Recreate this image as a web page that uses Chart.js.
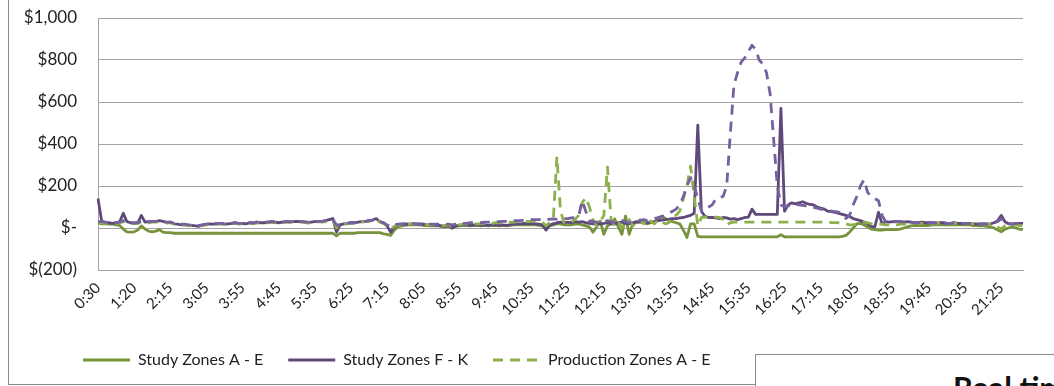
<!DOCTYPE html>
<html>
<head>
<meta charset="utf-8">
<script src="https://cdn.jsdelivr.net/npm/chart.js@4.4.1/dist/chart.umd.min.js"></script>
<style>
  html, body { margin: 0; padding: 0; background: #fff; width: 1054px; height: 386px; overflow: hidden; }
  #frame { position: absolute; left: 8px; top: -2px; width: 1100px; height: 387px; box-sizing: border-box;
           border-left: 1px solid #8a8a8a; border-bottom: 1px solid #8a8a8a; }
  #wrap { position: absolute; left: 0; top: 0; width: 1054px; height: 386px; }
  #inset { position: absolute; left: 755px; top: 354px; width: 420px; height: 90px; box-sizing: border-box;
           border: 1px solid #8a8a8a; background: #fff; }
  #inset span { position: absolute; left: 197px; top: 17px; font: bold 31px/31px Lato, sans-serif; color: #111; white-space: nowrap; }
</style>
</head>
<body>
<div id="frame"></div>
<div id="wrap"><canvas id="chart" width="1054" height="386"></canvas></div>
<div id="inset"><span>Real time Prices</span></div>
<script>
// Five-minute intervals from 0:30 to 21:55 (the 1:50 interval is absent from the feed)
const START_MIN = 30;
const STEP_MIN = 5;
const POINTS = 257;
const MISSING_MIN = [110];

const times = [];
for (let m = START_MIN; times.length < POINTS; m += STEP_MIN) {
  if (MISSING_MIN.includes(m)) continue;
  times.push(Math.floor(m / 60) + ':' + String(m % 60).padStart(2, '0'));
}

// Prices in $/MWh, one value per interval
const studyAE = [
  25, 20, 20, 18, 20, 15, 12, -5, -18, -20,
  -18, -10, 10, -5, -15, -18, -15, -8, -20, -22,
  -22, -25, -25, -25, -25, -25, -25, -25, -25, -25,
  -25, -25, -25, -25, -25, -25, -25, -25, -25, -25,
  -25, -25, -25, -25, -25, -25, -25, -25, -25, -25,
  -25, -25, -25, -25, -25, -25, -25, -25, -25, -25,
  -25, -25, -25, -25, -25, -25, -38, -25, -25, -25,
  -25, -25, -22, -22, -22, -22, -22, -22, -22, -28,
  -30, -35, -10, 5, 10, 12, 15, 15, 15, 15,
  12, 12, 10, 10, 10, 8, 5, 8, 0, 8,
  10, 12, 12, 10, 12, 12, 10, 12, 10, 12,
  12, 10, 12, 10, 12, 15, 15, 15, 15, 15,
  15, 15, 12, 10, -5, 10, 15, 20, 20, 15,
  15, 15, 18, 20, 15, 10, 5, -20, 5, 33,
  -30, 10, 20, 43, 5, -30, 57, -30, 20, 25,
  30, 25, 20, 25, 30, 40, 55, 45, 35, 30,
  25, 20, -10, -45, 20, 20, -40, -42, -42, -42,
  -42, -42, -42, -42, -42, -42, -42, -42, -42, -42,
  -42, -42, -42, -42, -42, -42, -42, -42, -42, -32,
  -42, -42, -42, -42, -42, -42, -42, -42, -42, -42,
  -42, -42, -42, -42, -42, -42, -40, -35, -20, 0,
  20, 22, 15, 5, -5, -8, -10, -10, -8, -8,
  -8, -8, -5, 0, 5, 10, 12, 12, 12, 12,
  12, 15, 15, 15, 15, 15, 15, 15, 15, 15,
  15, 15, 12, 12, 10, 10, 8, 5, 0, -10,
  -18, -5, 0, 5, 0, -5, -8
];

const studyFK = [
  140, 35, 25, 25, 22, 25, 30, 70, 30, 25,
  22, 25, 60, 28, 30, 32, 30, 35, 32, 25,
  28, 20, 18, 15, 15, 12, 12, 10, 8, 15,
  18, 20, 18, 20, 22, 18, 20, 22, 25, 20,
  22, 20, 25, 22, 28, 25, 25, 28, 30, 28,
  25, 28, 30, 28, 30, 32, 30, 28, 25, 28,
  30, 32, 30, 35, 40, 45, -20, 15, 20, 22,
  25, 25, 28, 30, 32, 35, 38, 45, 30, 25,
  10, -20, 5, 15, 18, 20, 18, 20, 18, 18,
  18, 15, 15, 12, 15, 10, 8, 12, 0, 10,
  12, 15, 15, 12, 15, 15, 12, 15, 12, 15,
  15, 12, 15, 12, 15, 18, 20, 20, 22, 20,
  22, 20, 18, 15, -10, 15, 20, 25, 28, 25,
  28, 25, 30, 28, 30, 25, 22, 20, 18, 20,
  22, 25, 20, 18, 25, 28, 22, 20, 25, 30,
  28, 30, 25, 28, 30, 35, 38, 40, 42, 45,
  45, 48, 50, 55, 60, 70, 490, 80, 55, 50,
  50, 48, 45, 50, 48, 42, 45, 40, 45, 50,
  52, 90, 65, 65, 65, 65, 65, 65, 65, 570,
  80, 110, 120, 115, 120, 125, 118, 112, 110, 100,
  95, 90, 80, 78, 75, 70, 65, 60, 55, 45,
  40, 35, 28, 20, 8, 5, 75, 20, 30, 28,
  30, 32, 30, 28, 30, 28, 25, 25, 28, 25,
  25, 25, 22, 25, 25, 22, 22, 25, 22, 22,
  20, 22, 20, 20, 18, 20, 18, 20, 25, 35,
  60, 30, 20, 18, 20, 22, 22
];

const productionAE = [
  25, 25, 22, 20, 20, 22, 25, 30, 25, 22,
  22, 22, 30, 25, 25, 28, 28, 30, 28, 25,
  25, 20, 18, 15, 15, 12, 12, 10, 10, 12,
  15, 18, 18, 18, 20, 18, 18, 20, 22, 20,
  20, 20, 22, 22, 25, 22, 25, 25, 28, 25,
  25, 25, 28, 28, 28, 30, 28, 28, 25, 25,
  28, 30, 28, 30, 35, 38, 0, 12, 18, 20,
  22, 22, 25, 28, 30, 32, 35, 38, 28, 22,
  10, -5, 8, 15, 15, 18, 18, 18, 18, 18,
  18, 15, 15, 15, 15, 12, 12, 15, 5, 12,
  15, 18, 18, 18, 20, 20, 20, 22, 22, 22,
  25, 25, 25, 25, 28, 28, 30, 30, 30, 32,
  32, 32, 30, 28, 10, 25, 35, 340, 80, 25,
  20, 30, 40, 60, 120, 145, 100, 40, 10, 30,
  60, 290, 40, 10, 30, 0, 20, 40, 10, 30,
  40, 20, 50, 30, 20, 40, 30, 20, 25, 60,
  60, 80, 140, 200, 295, 150, 10, 50, 52, 52,
  52, 52, 50, 40, 15, 25, 28, 28, 28, 28,
  28, 28, 28, 28, 28, 28, 28, 28, 28, 28,
  28, 28, 28, 28, 28, 28, 28, 28, 28, 28,
  28, 28, 28, 26, 26, 25, 22, 20, 15, 15,
  20, 25, 28, 25, 20, 15, 20, 18, 15, 15,
  15, 15, 18, 18, 20, 20, 22, 22, 22, 22,
  22, 22, 22, 22, 22, 22, 22, 22, 22, 22,
  22, 22, 20, 20, 20, 20, 18, 18, 15, 5,
  -5, 10, 15, 15, 15, 12, 10
];

const productionFK = [
  30, 30, 28, 25, 25, 25, 28, 35, 28, 25,
  25, 25, 35, 28, 30, 32, 32, 35, 32, 28,
  28, 22, 20, 18, 18, 15, 15, 12, 12, 15,
  18, 20, 20, 22, 22, 20, 22, 22, 25, 22,
  22, 22, 25, 25, 28, 25, 28, 28, 30, 28,
  28, 28, 30, 30, 30, 32, 30, 30, 28, 28,
  30, 32, 32, 35, 38, 40, 15, 15, 20, 22,
  25, 25, 28, 30, 32, 35, 38, 40, 30, 25,
  15, 5, 15, 18, 20, 20, 20, 22, 20, 20,
  20, 18, 18, 18, 18, 18, 18, 18, 15, 18,
  20, 22, 22, 25, 25, 25, 25, 28, 28, 28,
  30, 30, 32, 32, 32, 35, 35, 35, 38, 40,
  40, 40, 40, 42, 38, 42, 42, 42, 45, 45,
  45, 48, 50, 55, 130, 80, 35, 30, 28, 30,
  30, 35, 30, 25, 30, 35, 30, 25, 30, 35,
  35, 40, 35, 40, 45, 50, 55, 60, 70, 80,
  90, 110, 150, 200, 240, 200, 140, 80, 90, 100,
  110, 140, 145, 150, 200, 450, 680, 740, 790, 810,
  840, 870, 850, 800, 780, 740, 640, 420, 200, 110,
  100, 105, 110, 112, 110, 108, 105, 100, 98, 95,
  90, 88, 85, 80, 78, 75, 60, 45, 60, 110,
  150, 200, 230, 170, 150, 140, 130, 60, 30, 28,
  28, 30, 30, 28, 28, 28, 25, 25, 28, 25,
  25, 25, 25, 25, 25, 22, 22, 25, 22, 22,
  22, 22, 22, 20, 20, 20, 20, 22, 25, 30,
  45, 25, 22, 20, 22, 22, 22
];

const Y_MIN = -200, Y_MAX = 1000, Y_STEP = 200;
const LABEL_EVERY = 10;
const LEGEND_SERIES = ['Study Zones A - E', 'Study Zones F - K', 'Production Zones A - E'];
const LEGEND_LEFT = 58;

const GREEN = '#77933c';
const GREEN_LIGHT = '#8db04c';
const PURPLE = '#5f497a';
const PURPLE_LIGHT = '#7560a0';
const TEXT = '#222222';
const GRID = '#a3a3a3';
const FONT = 'Lato, "Open Sans", sans-serif';
const LINE_WIDTH = 2.8;
const DASH = [10, 7];

function money(v) {
  if (v === 0) return '$-';
  if (v < 0) return '$(' + Math.abs(v).toLocaleString('en-US') + ')';
  return '$' + v.toLocaleString('en-US');
}

function series(label, data, color, dashed, order) {
  return {
    label, data, order,
    borderColor: color,
    backgroundColor: color,
    borderWidth: LINE_WIDTH,
    borderDash: dashed ? DASH : [],
    borderJoinStyle: 'round',
    pointRadius: 0,
    pointHoverRadius: 0,
    tension: 0,
    fill: false
  };
}

// Start the legend row at a fixed indent instead of the canvas edge
const legendIndent = {
  id: 'legendIndent',
  afterLayout(chart) {
    if (chart.legend) chart.legend.left = LEGEND_LEFT;
  }
};

new Chart(document.getElementById('chart'), {
  type: 'line',
  data: {
    labels: times,
    datasets: [
      series('Study Zones A - E', studyAE, GREEN, false, 4),
      series('Study Zones F - K', studyFK, PURPLE, false, 3),
      series('Production Zones A - E', productionAE, GREEN_LIGHT, true, 2),
      series('Production Zones F - K', productionFK, PURPLE_LIGHT, true, 1)
    ]
  },
  plugins: [legendIndent],
  options: {
    responsive: false,
    devicePixelRatio: 1,
    animation: false,
    events: [],
    layout: { padding: { left: 8, right: 31, top: 18, bottom: 8 } },
    plugins: {
      tooltip: { enabled: false },
      legend: {
        position: 'bottom',
        align: 'start',
        labels: {
          usePointStyle: true,
          pointStyle: 'line',
          pointStyleWidth: 47,
          padding: 25,
          color: TEXT,
          font: { family: FONT, size: 16 },
          // legend samples take the stroke of each series line, dashes included
          generateLabels(chart) {
            return Chart.defaults.plugins.legend.labels.generateLabels(chart).map((item) => {
              const ds = chart.data.datasets[item.datasetIndex];
              return Object.assign(item, {
                strokeStyle: ds.borderColor,
                lineWidth: ds.borderWidth,
                lineDash: ds.borderDash,
                lineCap: 'butt'
              });
            });
          },
          filter: (item) => LEGEND_SERIES.includes(item.text),
          sort: (a, b) => a.datasetIndex - b.datasetIndex
        }
      }
    },
    scales: {
      x: {
        type: 'category',
        offset: false,
        grid: { display: false, drawTicks: false },
        border: { display: true, color: GRID, width: 1 },
        afterFit(scale) { scale.height = 57; },
        ticks: {
          autoSkip: false,
          minRotation: 45,
          maxRotation: 45,
          padding: 9,
          color: TEXT,
          font: { family: FONT, size: 15 },
          callback(value, index) {
            return index % LABEL_EVERY === 0 ? this.getLabelForValue(value) : null;
          }
        }
      },
      y: {
        min: Y_MIN,
        max: Y_MAX,
        afterFit(scale) {
          scale.width = 90;
          scale.paddingTop = 0;
          scale.paddingBottom = 0;
        },
        grid: { color: GRID, lineWidth: 1, drawTicks: false },
        border: { display: true, color: GRID, width: 1 },
        ticks: {
          stepSize: Y_STEP,
          padding: 21,
          color: TEXT,
          font: { family: FONT, size: 17 },
          callback: (v) => money(v)
        }
      }
    }
  }
});
</script>
</body>
</html>
